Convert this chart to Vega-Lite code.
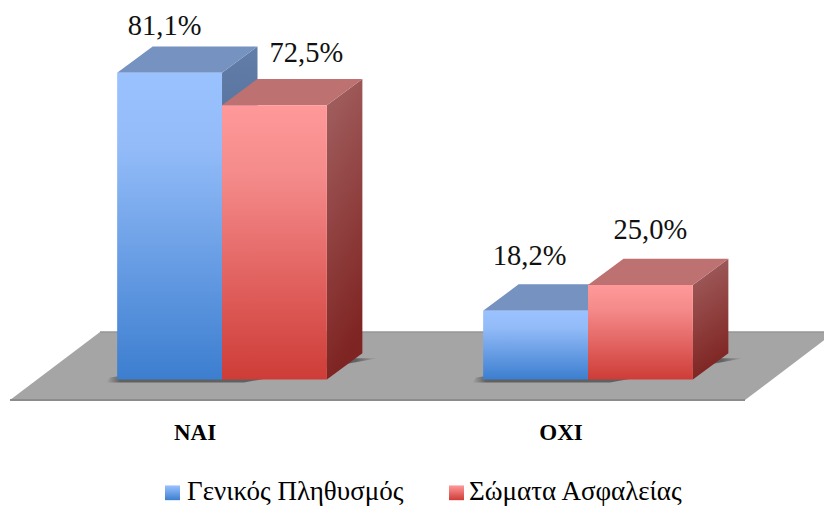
{
"$schema":"https://vega.github.io/schema/vega-lite/v6.json",
"width":824,"height":508,"padding":0,"autosize":{"type":"none"},
"background":"white",
"config":{"style":{"cell":{"stroke":null}}},
"datasets":{
"bars":[
{"cat":"NAI","series":"Γενικός Πληθυσμός","value":81.1,"label":"81,1%"},
{"cat":"NAI","series":"Σώματα Ασφαλείας","value":72.5,"label":"72,5%"},
{"cat":"OXI","series":"Γενικός Πληθυσμός","value":18.2,"label":"18,2%"},
{"cat":"OXI","series":"Σώματα Ασφαλείας","value":25.0,"label":"25,0%"}
],
"floor":[{"part":"floor"}],
"cats":[{"cat":"NAI"},{"cat":"OXI"}],
"legend":[{"series":"Γενικός Πληθυσμός","s":0},{"series":"Σώματα Ασφαλείας","s":1}]
},
"data":{"name":"bars"},
"transform":[
{"calculate":"datum.cat==='NAI'?0:1","as":"g"},
{"calculate":"datum.series==='Γενικός Πληθυσμός'?0:1","as":"s"},
{"calculate":"datum.g+(datum.s-1)*0.2865","as":"left"},
{"calculate":"datum.left+0.2865","as":"right"},
{"calculate":"0","as":"zero"}
],
"encoding":{
"x":{"field":"px","type":"quantitative","title":null,"axis":null,"scale":{"domain":[-0.6066,1.6448],"nice":false,"zero":false}},
"y":{"field":"py","type":"quantitative","title":null,"axis":null,"scale":{"domain":[-33.97,100.32],"nice":false,"zero":false}}
},
"layer":[
{"data":{"name":"floor"},
"transform":[{"calculate":"[0,1,2,3]","as":"t"},{"flatten":["t"]},
{"calculate":"[-0.5792,-0.3333,1.4290,1.6749][datum.t]","as":"px"},
{"calculate":"[-5.42,12.56,12.56,12.56][datum.t]","as":"py"},
{"calculate":"[-5.42,-5.42,-5.42,12.56][datum.t]","as":"py2"}],
"mark":{"type":"area","fill":"#A5A5A5","clip":true},
"encoding":{"y2":{"field":"py2"}}},
{"data":{"name":"floor"},
"transform":[{"calculate":"[0,1]","as":"t"},{"flatten":["t"]},
{"calculate":"[-0.5792,1.4290][datum.t]","as":"px"},
{"calculate":"-5.42","as":"py"}],
"mark":{"type":"line","stroke":"#8C8C8C","strokeWidth":2}},
{"data":{"name":"floor"},
"transform":[{"calculate":"[0,1]","as":"t"},{"flatten":["t"]},
{"calculate":"[-0.3333,1.6749][datum.t]","as":"px"},
{"calculate":"12.56","as":"py"}],
"mark":{"type":"line","stroke":"#969696","strokeWidth":1.5,"clip":true}},
{"transform":[{"filter":"datum.s===1"},{"calculate":"[0,1,2,3]","as":"t"},{"flatten":["t"]},
{"calculate":"[-0.316,-0.306,0.06,0.425][datum.t]+datum.g","as":"px"},
{"calculate":"[-0.8,-0.8,-0.8,5.6][datum.t]","as":"py2"},
{"calculate":"[-0.8,0.5,5.6,5.6][datum.t]","as":"py"}],
"mark":{"type":"area","fill":{"gradient":"linear","x1":0,"y1":0,"x2":1,"y2":0,"stops":[{"offset":0,"color":"rgba(60,60,60,0)"},{"offset":0.05,"color":"rgba(60,60,60,0.65)"},{"offset":0.92,"color":"rgba(60,60,60,0.65)"},{"offset":1,"color":"rgba(60,60,60,0)"}]}},
"encoding":{"y2":{"field":"py2"},"detail":{"field":"cat"}}},

{"transform":[{"filter":"datum.s===0"},{"calculate":"[0,1]","as":"t"},{"flatten":["t"]},
{"calculate":"datum.right+datum.t*0.097","as":"px"},
{"calculate":"datum.value+datum.t*6.95","as":"py"},
{"calculate":"datum.t*6.95","as":"py2"}],
"mark":{"type":"area","fill":{"gradient":"linear","x1":0,"y1":0,"x2":0,"y2":1,"stops":[{"offset":0,"color":"#637EA8"},{"offset":1,"color":"#2B5080"}]}},
"encoding":{"y2":{"field":"py2"},"detail":{"field":"cat"}}},
{"transform":[{"filter":"datum.s===0"},{"calculate":"[0,1,2,3]","as":"t"},{"flatten":["t"]},
{"calculate":"datum.left+[0,0.097,0.2865,0.3835][datum.t]","as":"px"},
{"calculate":"datum.value+[0,6.95,6.95,6.95][datum.t]","as":"py"},
{"calculate":"datum.value+[0,0,0,6.95][datum.t]","as":"py2"}],
"mark":{"type":"area","fill":"#7592C0"},
"encoding":{"y2":{"field":"py2"},"detail":{"field":"cat"}}},
{"transform":[{"filter":"datum.s===1"},{"calculate":"[0,1]","as":"t"},{"flatten":["t"]},
{"calculate":"datum.right+datum.t*0.097","as":"px"},
{"calculate":"datum.value+datum.t*6.95","as":"py"},
{"calculate":"datum.t*6.95","as":"py2"}],
"mark":{"type":"area","fill":{"gradient":"linear","x1":0,"y1":0,"x2":0.2,"y2":1,"stops":[{"offset":0,"color":"#A36262"},{"offset":1,"color":"#7E2422"}]}},
"encoding":{"y2":{"field":"py2"},"detail":{"field":"cat"}}},
{"transform":[{"filter":"datum.s===1"},{"calculate":"[0,1,2,3]","as":"t"},{"flatten":["t"]},
{"calculate":"datum.left+[0,0.097,0.2865,0.3835][datum.t]","as":"px"},
{"calculate":"datum.value+[0,6.95,6.95,6.95][datum.t]","as":"py"},
{"calculate":"datum.value+[0,0,0,6.95][datum.t]","as":"py2"}],
"mark":{"type":"area","fill":"#BE7171"},
"encoding":{"y2":{"field":"py2"},"detail":{"field":"cat"}}},

{"transform":[{"filter":"datum.s===0"}],
"mark":{"type":"rect","fill":{"gradient":"linear","x1":0,"y1":0,"x2":0,"y2":1,"stops":[{"offset":0,"color":"#9AC2FF"},{"offset":0.25,"color":"#92BBF8"},{"offset":1,"color":"#3C7ECF"}]}},
"encoding":{"x":{"field":"left","type":"quantitative"},"x2":{"field":"right"},"y":{"field":"value","type":"quantitative"},"y2":{"field":"zero"}}},
{"transform":[{"filter":"datum.s===1"}],
"mark":{"type":"rect","fill":{"gradient":"linear","x1":0,"y1":0,"x2":0,"y2":1,"stops":[{"offset":0,"color":"#FF9999"},{"offset":0.25,"color":"#F58B8B"},{"offset":1,"color":"#CE3C37"}]}},
"encoding":{"x":{"field":"left","type":"quantitative"},"x2":{"field":"right"},"y":{"field":"value","type":"quantitative"},"y2":{"field":"zero"}}},

{"transform":[
{"calculate":"{'NAI0':-0.0137,'NAI1':0.0874,'OXI0':-0.0164,'OXI1':0.0273}[datum.cat+datum.s]","as":"dxv"},
{"calculate":"{'NAI0':12.4,'NAI1':13.8,'OXI0':14.5,'OXI1':14.5}[datum.cat+datum.s]","as":"dyv"},
{"calculate":"(datum.left+datum.right)/2+datum.dxv","as":"px"},
{"calculate":"datum.value+datum.dyv","as":"py"}],
"mark":{"type":"text","font":"Liberation Serif","fontSize":28.5,"color":"#111","align":"center","baseline":"middle"},
"encoding":{"text":{"field":"label"}}},
{"data":{"name":"cats"},
"transform":[{"calculate":"(datum.cat==='NAI'?0:1)-0.0738","as":"px"},{"calculate":"-14.1","as":"py"}],
"mark":{"type":"text","font":"Liberation Serif","fontWeight":"bold","fontSize":23,"color":"#000","align":"center","baseline":"middle"},
"encoding":{"text":{"field":"cat"}}},

{"data":{"name":"legend"},
"transform":[{"filter":"datum.s===0"},{"calculate":"-0.1557","as":"l"},{"calculate":"-0.1148","as":"r"},{"calculate":"-28.0","as":"t"},{"calculate":"-31.9","as":"b"}],
"mark":{"type":"rect","fill":{"gradient":"linear","x1":0,"y1":0,"x2":0,"y2":1,"stops":[{"offset":0,"color":"#9AC2FF"},{"offset":1,"color":"#3C7ECF"}]}},
"encoding":{"x":{"field":"l","type":"quantitative"},"x2":{"field":"r"},"y":{"field":"t","type":"quantitative"},"y2":{"field":"b"}}},
{"data":{"name":"legend"},
"transform":[{"filter":"datum.s===1"},{"calculate":"0.6202","as":"l"},{"calculate":"0.6612","as":"r"},{"calculate":"-28.0","as":"t"},{"calculate":"-31.9","as":"b"}],
"mark":{"type":"rect","fill":{"gradient":"linear","x1":0,"y1":0,"x2":0,"y2":1,"stops":[{"offset":0,"color":"#FF9999"},{"offset":1,"color":"#CE3C37"}]}},
"encoding":{"x":{"field":"l","type":"quantitative"},"x2":{"field":"r"},"y":{"field":"t","type":"quantitative"},"y2":{"field":"b"}}},
{"data":{"name":"legend"},
"transform":[{"calculate":"datum.s===0?-0.0956:0.6749","as":"px"},{"calculate":"-29.74","as":"py"}],
"mark":{"type":"text","font":"Liberation Serif","fontSize":27,"color":"#000","align":"left","baseline":"middle"},
"encoding":{"text":{"field":"series"}}}
]
}
